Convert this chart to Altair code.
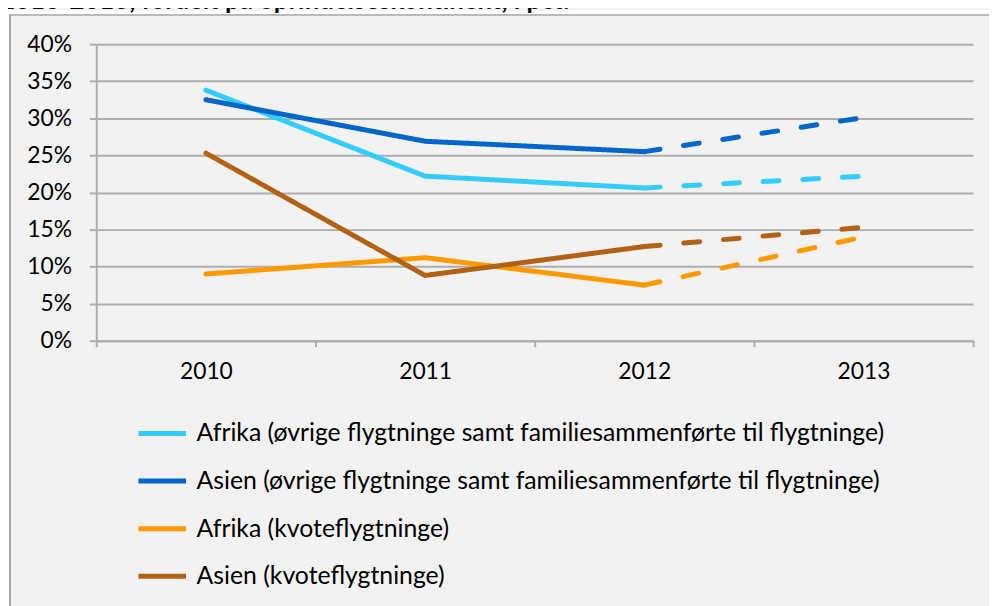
import altair as alt
import pandas as pd

years = ["2010", "2011", "2012", "2013"]
series = [
    "Afrika (øvrige flygtninge samt familiesammenførte til flygtninge)",
    "Asien (øvrige flygtninge samt familiesammenførte til flygtninge)",
    "Afrika (kvoteflygtninge)",
    "Asien (kvoteflygtninge)",
]
afrika_ovrige = [0.338, 0.222, 0.206, 0.222]
asien_ovrige = [0.325, 0.269, 0.255, 0.301]
afrika_kvote = [0.090, 0.112, 0.075, 0.140]
asien_kvote = [0.253, 0.088, 0.127, 0.153]
colors = ["#33CCFF", "#0066CC", "#FF9900", "#B36215"]
y_ticks = [0, 0.05, 0.10, 0.15, 0.20, 0.25, 0.30, 0.35, 0.40]
title_text = "2010-2013, fordelt på oprindelseskontinent, i pct."

FONT = "Lato"
GRID = "#ADADAD"
BORDER = "#A6A6A6"

rows = []
for s, vals in zip(series, [afrika_ovrige, asien_ovrige, afrika_kvote, asien_kvote]):
    for i, (yr, v) in enumerate(zip(years, vals)):
        if i <= 2:
            rows.append(dict(series=s, year=yr, value=v, seg="solid"))
        if i >= 2:
            rows.append(dict(series=s, year=yr, value=v, seg="dashed"))
df = pd.DataFrame(rows)
one = pd.DataFrame({"a": [0]})

lines = alt.Chart(df).mark_line(strokeWidth=5, strokeCap="round", strokeJoin="round").encode(
    x=alt.X("year:O", sort=years,
            scale=alt.Scale(type="band", paddingInner=0, paddingOuter=0),
            axis=alt.Axis(title=None, labelAngle=0, tickBand="extent", tickSize=6,
                          labelPadding=14, grid=False)),
    y=alt.Y("value:Q", scale=alt.Scale(domain=[0, 0.4], nice=False),
            axis=alt.Axis(title=None, values=y_ticks, format=".0%", tickSize=7,
                          labelPadding=18, grid=True)),
    color=alt.Color("series:N", sort=series,
                    scale=alt.Scale(domain=series, range=colors),
                    legend=alt.Legend(title=None, orient="none", legendX=40, legendY=366,
                                      direction="vertical", symbolType="stroke",
                                      symbolSize=2304, symbolStrokeWidth=5,
                                      labelFontSize=25, labelFont=FONT, labelColor="black",
                                      rowPadding=8, labelOffset=8, labelLimit=1000)),
    strokeDash=alt.StrokeDash("seg:N",
                              scale=alt.Scale(domain=["solid", "dashed"], range=[[1, 0], [16, 24]]),
                              legend=None),
)

white_top = alt.Chart(one).mark_rect(color="white").encode(
    x=alt.value(-89), x2=alt.value(920), y=alt.value(-34), y2=alt.value(-30))
white_left = alt.Chart(one).mark_rect(color="white").encode(
    x=alt.value(-89), x2=alt.value(-88), y=alt.value(-34), y2=alt.value(600))
border_top = alt.Chart(one).mark_rule(color=BORDER, strokeWidth=1.5).encode(
    x=alt.value(-88), x2=alt.value(920), y=alt.value(-29.5))
border_left = alt.Chart(one).mark_rule(color=BORDER, strokeWidth=2).encode(
    x=alt.value(-87), y=alt.value(-30), y2=alt.value(600))
title = alt.Chart(one).mark_text(align="left", baseline="alphabetic", fontSize=26,
                                 fontWeight="bold", font=FONT, color="black").encode(
    x=alt.value(-97), y=alt.value(-35), text=alt.value(title_text))

chart = alt.layer(white_top, white_left, border_top, border_left, title, lines).properties(
    width=884, height=299,
    autosize=alt.AutoSizeParams(type="none"),
    padding={"left": 89, "top": 34, "right": 16, "bottom": 265},
    background="#F2F2F2",
).configure_view(stroke=None).configure_axis(
    domainColor=GRID, domainWidth=2, tickColor=GRID, tickWidth=2,
    gridColor=GRID, gridWidth=2, labelFont=FONT, labelFontSize=23, labelColor="black",
)

chart.save("out.html", embed_options={"renderer": "svg", "actions": False})
